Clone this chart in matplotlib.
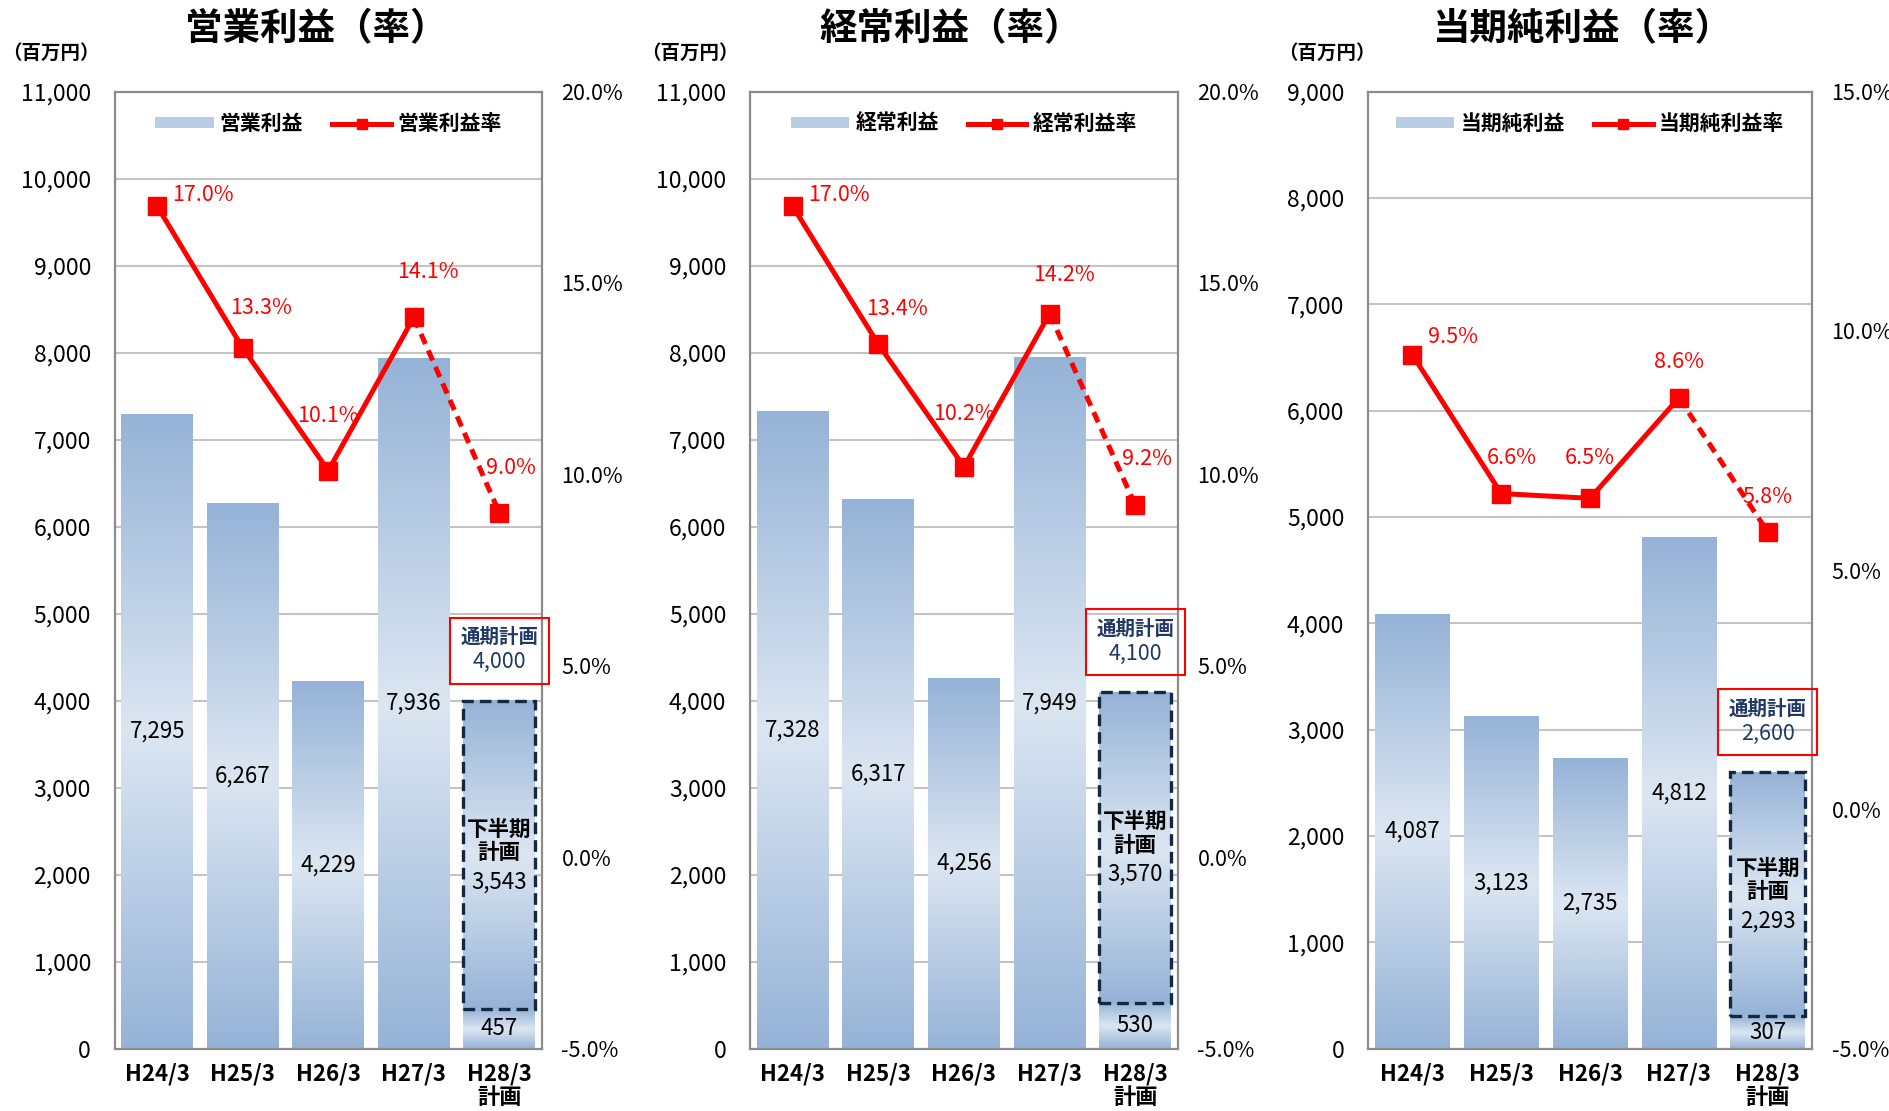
import numpy as np
import matplotlib
matplotlib.use("Agg")
import matplotlib.pyplot as plt
from matplotlib.colors import LinearSegmentedColormap
from matplotlib.patches import Patch
from matplotlib.lines import Line2D
from matplotlib.offsetbox import TextArea, VPacker, AnnotationBbox

plt.rcParams['font.family'] = ['Noto Sans CJK JP', 'DejaVu Sans']

periods = ['H24/3', 'H25/3', 'H26/3', 'H27/3', 'H28/3\n計画']

titles = ['営業利益（率）', '経常利益（率）', '当期純利益（率）']
bar_names = ['営業利益', '経常利益', '当期純利益']
rate_names = ['営業利益率', '経常利益率', '当期純利益率']

# last value in each profit list = first-half result of H28/3
op_profit = [7295, 6267, 4229, 7936, 457]
op_plan_h2 = 3543
op_rate = [17.0, 13.3, 10.1, 14.1, 9.0]

ord_profit = [7328, 6317, 4256, 7949, 530]
ord_plan_h2 = 3570
ord_rate = [17.0, 13.4, 10.2, 14.2, 9.2]

net_profit = [4087, 3123, 2735, 4812, 307]
net_plan_h2 = 2293
net_rate = [9.5, 6.6, 6.5, 8.6, 5.8]

left_max = [11000, 11000, 9000]
rate_lo = [-5, -5, -5]
rate_hi = [20, 20, 15]

profits = [op_profit, ord_profit, net_profit]
plans_h2 = [op_plan_h2, ord_plan_h2, net_plan_h2]
rates = [op_rate, ord_rate, net_rate]

# label offsets (pixels) for the rate labels
rate_offsets = [
    [(46, 11), (18, 40), (0, 55), (14, 45), (12, 45)],
    [(46, 11), (19, 35), (0, 53), (14, 39), (12, 46)],
    [(41, 18), (11, 36), (0, 40), (0, 36), (0, 35)],
]

axes_rects = [
    [0.0606, 0.0561, 0.2262, 0.8615],
    [0.3968, 0.0561, 0.2265, 0.8615],
    [0.7238, 0.0561, 0.2350, 0.8615],
]
title_x = [0.1675, 0.503, 0.837]
unit_x = [0.001, 0.339, 0.676]

navy = '#1f3864'
grad_cmap = LinearSegmentedColormap.from_list('bar', ['#95b3d7', '#dce6f2', '#95b3d7'])


def fill_gradient(ax, patch):
    x0, y0 = patch.get_x(), patch.get_y()
    w, h = patch.get_width(), patch.get_height()
    g = np.linspace(0, 1, 256).reshape(-1, 1)
    ax.imshow(g, cmap=grad_cmap, aspect='auto', origin='lower',
              extent=(x0, x0 + w, y0, y0 + h), zorder=1.5,
              interpolation='bicubic')


fig = plt.figure(figsize=(18.9, 11.11), dpi=100)

for i in range(3):
    ax = fig.add_axes(axes_rects[i])
    x = np.arange(len(periods))
    prof = profits[i]
    total = prof[4] + plans_h2[i]

    bars = ax.bar(x, prof, width=0.84, color='none', zorder=2)
    top = ax.bar(x[4], plans_h2[i], bottom=prof[4], width=0.84, color='none',
                 edgecolor='#142844', linewidth=2.4, linestyle=(0, (3.5, 1.8)),
                 zorder=3)
    for p in list(bars) + list(top):
        fill_gradient(ax, p)

    for k in range(5):
        ax.text(x[k], prof[k] / 2, f'{prof[k]:,}', ha='center', va='center',
                fontsize=16, color='black', zorder=4)
    mid = prof[4] + plans_h2[i] / 2
    ax.annotate('下半期\n計画', (x[4], mid), xytext=(0, 14), textcoords='offset pixels',
                ha='center', va='center', fontsize=15.5, fontweight='bold',
                linespacing=1.15, zorder=4)
    ax.annotate(f'{plans_h2[i]:,}', (x[4], mid), xytext=(0, -27),
                textcoords='offset pixels', ha='center', va='center',
                fontsize=16, zorder=4)

    t1 = TextArea('通期計画', textprops=dict(fontsize=14, fontweight='bold', color=navy))
    t2 = TextArea(f'{total:,}', textprops=dict(fontsize=15.5, color=navy))
    pack = VPacker(children=[t1, t2], align='center', pad=0, sep=3)
    ab = AnnotationBbox(pack, (x[4], total), xybox=(0, 50), xycoords='data',
                        boxcoords='offset pixels', frameon=True, pad=0.75,
                        bboxprops=dict(edgecolor='#ff0000', facecolor='none', lw=1.5),
                        annotation_clip=False, zorder=5)
    ab.set_clip_on(False)
    ax.add_artist(ab)

    ax.set_xlim(-0.5, 4.5)
    ax.set_ylim(0, left_max[i])
    ax.set_yticks(range(0, left_max[i] + 1, 1000))
    ax.set_yticklabels([f'{v:,}' for v in range(0, left_max[i] + 1, 1000)])
    ax.set_xticks(x)
    ax.set_xticklabels(periods, fontsize=16, fontweight='bold', linespacing=1.0)
    ax.tick_params(axis='y', length=0, pad=17, labelsize=16.5)
    ax.tick_params(axis='x', length=0, pad=10)
    ax.yaxis.grid(True, color='#c4c4c4', linewidth=1.5)
    ax.set_axisbelow(True)
    for s in ax.spines.values():
        s.set_color('#8c8c8c')
        s.set_linewidth(1.6)

    ax2 = ax.twinx()
    r = rates[i]
    ax2.plot(x[:4], r[:4], color='#ff0000', linewidth=3.6, zorder=3)
    ax2.plot(x[3:], r[3:], color='#ff0000', linewidth=3.6, linestyle=(0, (2.2, 1.4)), zorder=3)
    ax2.plot(x, r, linestyle='none', marker='s', markersize=13, color='#ff0000', zorder=4)
    for k in range(5):
        ax2.annotate(f'{r[k]:.1f}%', (x[k], r[k]), xytext=rate_offsets[i][k],
                     textcoords='offset pixels', ha='center', va='center',
                     fontsize=15.5, color='#ff0000')
    ax2.set_ylim(rate_lo[i], rate_hi[i])
    ticks2 = np.arange(rate_lo[i], rate_hi[i] + 0.1, 5)
    ax2.set_yticks(ticks2)
    ax2.set_yticklabels([f'{v:.1f}%' for v in ticks2])
    ax2.tick_params(axis='y', length=0, pad=14, labelsize=15.5)
    for s in ax2.spines.values():
        s.set_visible(False)

    handles = [Patch(facecolor='#b9cde5', edgecolor='none'),
               Line2D([], [], color='#ff0000', linewidth=3.6, marker='s', markersize=7)]
    ax2.legend(handles, [bar_names[i], rate_names[i]], loc='upper center',
               bbox_to_anchor=(0.5, 0.997), ncol=2, frameon=False,
               prop=dict(size=15, weight='bold'), handlelength=2.8,
               handleheight=0.45, columnspacing=1.4, handletextpad=0.3)

    fig.text(title_x[i], 0.974, titles[i], ha='center', va='center',
             fontsize=27, fontweight='bold')
    fig.text(unit_x[i], 0.952, '（百万円）', ha='left', va='center',
             fontsize=14, fontweight='bold')

fig.savefig('out.png', dpi=100)
